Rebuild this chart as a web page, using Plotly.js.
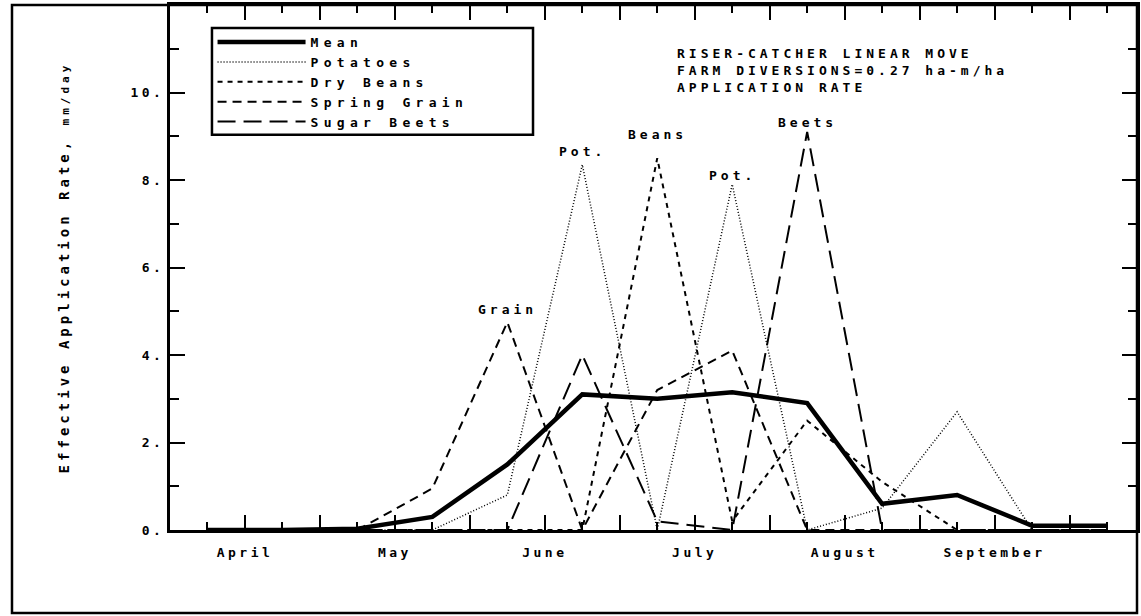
<!DOCTYPE html>
<html>
<head>
<meta charset="utf-8">
<script src="https://cdn.plot.ly/plotly-3.0.1.min.js"></script>
<style>
html,body{margin:0;padding:0;background:#fff;}
#chart{width:1141px;height:616px;}
.xtick text, .ytick text {letter-spacing:3.5px;}
text.ytitle {letter-spacing:4px;}
text.legendtext {letter-spacing:5.3px;}
text.annotation-text {letter-spacing:4px;}
</style>
</head>
<body>
<div id="chart"></div>
<script>
// Semi-monthly periods (x in quarter-month units from 1 April)
const periods = [1, 3, 5, 7, 9, 11, 13, 15, 17, 19, 21, 23, 25];
const meanRate     = [0, 0, 0.03, 0.3, 1.5, 3.1, 3.0, 3.15, 2.9, 0.6, 0.8, 0.1, 0.1];
const potatoes     = [0, 0, 0, 0, 0.8, 8.35, 0, 7.9, 0, 0.5, 2.7, 0, 0];
const dryBeans     = [0, 0, 0, 0, 0, 0, 8.5, 0.2, 2.5, 1.1, 0, 0, 0];
const springGrain  = [0, 0, 0, 0.95, 4.75, 0, 3.2, 4.1, 0, 0, 0, 0, 0];
const sugarBeets   = [0, 0, 0, 0, 0, 4.0, 0.2, 0, 9.1, 0, 0, 0, 0];

const monthTickVals = [2, 4, 6, 8, 10, 12, 14, 16, 18, 20, 22, 24];
const monthTickText = ['April', '', 'May', '', 'June', '', 'July', '', 'August', '', 'September', ''];
const yTickVals = [0, 2, 4, 6, 8, 10];
const yTickText = ['0.', '2.', '4.', '6.', '8.', '10.'];

const peakLabels = [
  {text: 'Grain', x: 9,  y: 4.75, shift: 3},
  {text: 'Pot.',  x: 11, y: 8.35, shift: 4},
  {text: 'Beans', x: 13, y: 8.5,  shift: 14},
  {text: 'Pot.',  x: 15, y: 7.9,  shift: -1},
  {text: 'Beets', x: 17, y: 9.1,  shift: 0}
];

const FONT = 'DejaVu Sans Mono, monospace';

const traces = [
  {name: 'Mean', y: meanRate, line: {color: '#000', width: 4.5, dash: 'solid'}},
  {name: 'Potatoes', y: potatoes, line: {color: '#000', width: 1.5, dash: '1px,2px'}},
  {name: 'Dry Beans', y: dryBeans, line: {color: '#000', width: 2, dash: '5px,5px'}},
  {name: 'Spring Grain', y: springGrain, line: {color: '#000', width: 2, dash: '9px,6px'}},
  {name: 'Sugar Beets', y: sugarBeets, line: {color: '#000', width: 2, dash: '18px,8px'}}
].map(t => Object.assign({x: periods, type: 'scatter', mode: 'lines', hoverinfo: 'skip'}, t));

const annotations = peakLabels.map(p => ({
  x: p.x, y: p.y, xref: 'x', yref: 'y', text: p.text, showarrow: false,
  yanchor: 'bottom', yshift: p.shift, font: {family: FONT, size: 13, color: '#000', weight: 'bold'}
}));
annotations.push({
  xref: 'paper', yref: 'paper', x: 0.522, y: 0.925, xanchor: 'left', yanchor: 'top', align: 'left',
  showarrow: false,
  text: 'RISER-CATCHER LINEAR MOVE<br>FARM DIVERSIONS=0.27 ha-m/ha<br>APPLICATION RATE',
  font: {family: FONT, size: 13, color: '#000', weight: 'bold'}
});

const layout = {
  width: 1141, height: 616,
  margin: {l: 170, r: 4, t: 5, b: 86},
  paper_bgcolor: '#fff', plot_bgcolor: '#fff',
  showlegend: true,
  legend: {
    x: 0.044, y: 0.958, xanchor: 'left', yanchor: 'top',
    borderwidth: 0, bgcolor: 'rgba(0,0,0,0)',
    font: {family: FONT, size: 13, color: '#000', weight: 'bold'},
    tracegroupgap: 0, itemwidth: 88
  },
  xaxis: {
    range: [0, 25.8], showgrid: false, zeroline: false,
    showline: true, linecolor: '#000', linewidth: 3, mirror: 'allticks',
    ticks: 'inside', ticklen: 15, tickwidth: 2, tickcolor: '#000',
    tickmode: 'array', tickvals: monthTickVals, ticktext: monthTickText,
    minor: {dtick: 1, tick0: 0, ticks: 'inside', ticklen: 8, tickwidth: 2, tickcolor: '#000'},
    tickfont: {family: FONT, size: 13, color: '#000', weight: 'bold'},
    ticklabelstandoff: 8
  },
  yaxis: {
    range: [0, 12], showgrid: false, zeroline: false,
    showline: true, linecolor: '#000', linewidth: 3, mirror: 'allticks',
    ticks: 'inside', ticklen: 15, tickwidth: 2, tickcolor: '#000',
    tickmode: 'array', tickvals: yTickVals, ticktext: yTickText,
    minor: {dtick: 1, tick0: 0, ticks: 'inside', ticklen: 9, tickwidth: 2, tickcolor: '#000'},
    tickfont: {family: FONT, size: 13, color: '#000', weight: 'bold'},
    title: {text: 'Effective Application Rate, <span style="font-size:11px">mm/day</span>', standoff: 58,
            font: {family: FONT, size: 14, color: '#000', weight: 'bold'}}
  },
  annotations: annotations,
  shapes: [
    {type: 'rect', xref: 'paper', yref: 'paper',
     x0: -0.1634, x1: 1, y0: -0.158, y1: 1,
     line: {color: '#000', width: 2.5}, fillcolor: 'rgba(0,0,0,0)', layer: 'below'},
    {type: 'rect', xref: 'paper', yref: 'paper',
     x0: 0.0434, x1: 0.3754, y0: 0.753, y1: 0.956,
     line: {color: '#000', width: 2.5}, fillcolor: '#fff', layer: 'above'}
  ]
};

Plotly.newPlot('chart', traces, layout, {staticPlot: true, displayModeBar: false});
</script>
</body>
</html>
